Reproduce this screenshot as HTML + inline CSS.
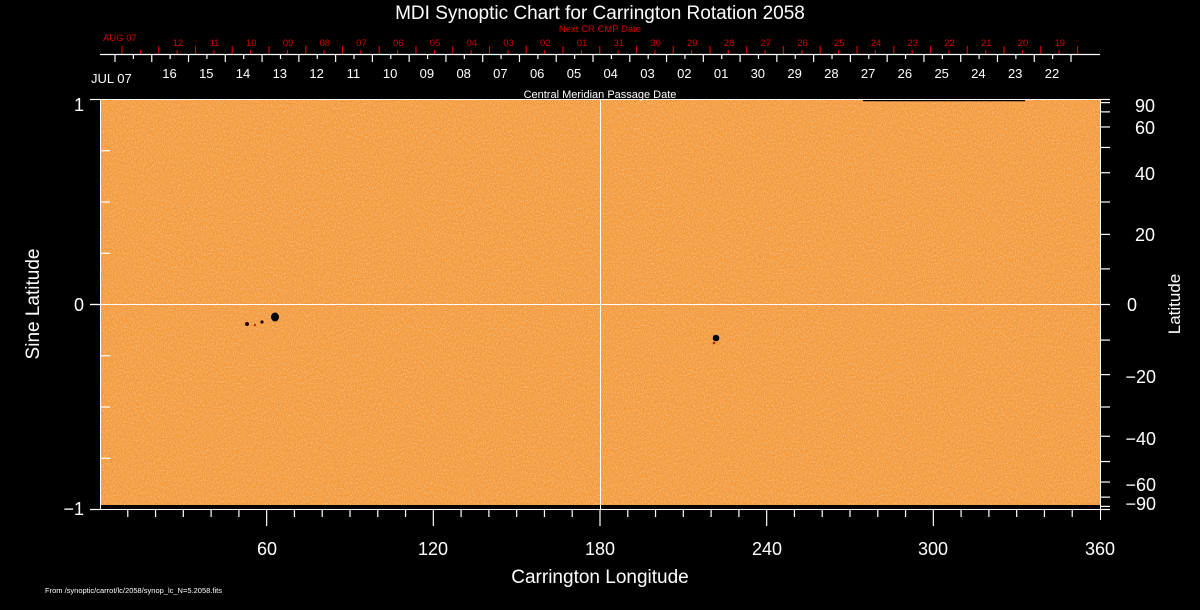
<!DOCTYPE html>
<html><head><meta charset="utf-8"><style>
html,body{margin:0;padding:0;background:#000;}
svg{display:block}
text{font-family:"Liberation Sans",sans-serif;}
</style></head><body>
<svg id="s" width="1200" height="610" viewBox="0 0 1200 610" xmlns="http://www.w3.org/2000/svg">
<defs>
<filter id="n" x="0" y="0" width="100%" height="100%">
<feTurbulence type="fractalNoise" baseFrequency="0.9 0.6" numOctaves="2" seed="3" result="t"/>
<feColorMatrix in="t" type="matrix" values="0 0 0 0 1  0 0 0 0 0.85  0 0 0 0 0.62  0 0 0 -2.2 1.35"/>
</filter>
</defs>
<rect x="0" y="0" width="1200" height="610" fill="#000"/>
<rect x="100" y="100" width="1000" height="405" fill="#f3983a"/>
<rect x="100" y="100" width="1000" height="405" filter="url(#n)" opacity="0.45"/>
<!-- sunspots -->
<ellipse cx="275" cy="317" rx="4" ry="4.5" fill="#000"/>
<circle cx="247" cy="324" r="2" fill="#200"/>
<circle cx="262" cy="322" r="1.6" fill="#200"/>
<circle cx="255" cy="325" r="1.2" fill="#c03000"/>
<circle cx="716" cy="338" r="3.3" fill="#000"/>
<circle cx="714" cy="343" r="1.3" fill="#b02800"/>
<line x1="863" y1="100.5" x2="1025" y2="100.5" stroke="#000" stroke-width="1.5"/>
<!-- grid -->
<line x1="600.5" y1="100" x2="600.5" y2="509" stroke="#fff" stroke-width="1"/>
<line x1="100" y1="304.5" x2="1100" y2="304.5" stroke="#fff" stroke-width="1"/>
<g id="ticks" stroke="#fff" stroke-width="1.2"></g>
<g id="rticks" stroke="#d00000" stroke-width="1.2"></g>
<!-- frame -->
<line x1="100" y1="99.5" x2="1100" y2="99.5" stroke="#fff"/>
<line x1="90" y1="509.5" x2="1100" y2="509.5" stroke="#fff"/>
<line x1="100.5" y1="99" x2="100.5" y2="510" stroke="#fff"/>
<line x1="1100.5" y1="99" x2="1100.5" y2="520" stroke="#fff"/>
<line x1="100" y1="54.5" x2="1100" y2="54.5" stroke="#fff" stroke-width="1.2"/>

<text x="600" y="19" fill="#fff" font-size="19" text-anchor="middle">MDI Synoptic Chart for Carrington Rotation 2058</text>
<text x="600" y="32" fill="#d00000" font-size="9.5" text-anchor="middle">Next CR CMP Date</text>
<text x="103" y="41" fill="#d00000" font-size="9.5">AUG 07</text>
<g fill="#d00000" font-size="9.5" text-anchor="middle">
<text x="178" y="46">12</text><text x="214.5" y="46">11</text><text x="251.3" y="46">10</text><text x="288" y="46">09</text><text x="324.8" y="46">08</text><text x="361.5" y="46">07</text><text x="398.3" y="46">06</text><text x="435" y="46">05</text><text x="471.8" y="46">04</text><text x="508.5" y="46">03</text><text x="545.3" y="46">02</text><text x="582" y="46">01</text><text x="618.8" y="46">31</text><text x="655.5" y="46">30</text><text x="692.3" y="46">29</text><text x="729" y="46">28</text><text x="765.8" y="46">27</text><text x="802.5" y="46">26</text><text x="839.3" y="46">25</text><text x="876" y="46">24</text><text x="912.8" y="46">23</text><text x="949.5" y="46">22</text><text x="986.3" y="46">21</text><text x="1023" y="46">20</text><text x="1059.8" y="46">19</text>
</g>
<text x="91" y="83" fill="#fff" font-size="13">JUL 07</text>
<g fill="#fff" font-size="13" text-anchor="middle">
<text x="169.5" y="78">16</text><text x="206.3" y="78">15</text><text x="243" y="78">14</text><text x="279.8" y="78">13</text><text x="316.6" y="78">12</text><text x="353.4" y="78">11</text><text x="390.1" y="78">10</text><text x="426.9" y="78">09</text><text x="463.7" y="78">08</text><text x="500.4" y="78">07</text><text x="537.2" y="78">06</text><text x="574" y="78">05</text><text x="610.7" y="78">04</text><text x="647.5" y="78">03</text><text x="684.3" y="78">02</text><text x="721.1" y="78">01</text><text x="757.8" y="78">30</text><text x="794.6" y="78">29</text><text x="831.4" y="78">28</text><text x="868.1" y="78">27</text><text x="904.9" y="78">26</text><text x="941.7" y="78">25</text><text x="978.4" y="78">24</text><text x="1015.2" y="78">23</text><text x="1052" y="78">22</text>
</g>
<text x="600" y="98" fill="#fff" font-size="11" text-anchor="middle">Central Meridian Passage Date</text>

<g fill="#fff" font-size="18">
<text x="84" y="111" text-anchor="end">1</text>
<text x="84" y="311" text-anchor="end">0</text>
<text x="84" y="515" text-anchor="end">−1</text>
<g text-anchor="middle">
<text x="267" y="555">60</text><text x="433" y="555">120</text><text x="600" y="555">180</text><text x="767" y="555">240</text><text x="933" y="555">300</text><text x="1100" y="555">360</text>
</g>
<g text-anchor="end">
<text x="1155" y="112">90</text><text x="1155" y="134">60</text><text x="1155" y="180">40</text><text x="1155" y="241">20</text><text x="1137" y="311">0</text><text x="1156" y="383">−20</text><text x="1156" y="445">−40</text><text x="1156" y="491">−60</text><text x="1156" y="510">−90</text>
</g>
</g>
<text x="600" y="583" fill="#fff" font-size="19" text-anchor="middle">Carrington Longitude</text>
<text transform="translate(39,304) rotate(-90)" fill="#fff" font-size="19" text-anchor="middle">Sine Latitude</text>
<text transform="translate(1180,304) rotate(-90)" fill="#fff" font-size="17" text-anchor="middle">Latitude</text>
<text x="45" y="593" fill="#fff" font-size="7.5">From /synoptic/carrot/lc/2058/synop_lc_N=5.2058.fits</text>
</svg>
<script>
var NS="http://www.w3.org/2000/svg";
function L(g,x1,y1,x2,y2){var l=document.createElementNS(NS,"line");l.setAttribute("x1",x1);l.setAttribute("y1",y1);l.setAttribute("x2",x2);l.setAttribute("y2",y2);document.getElementById(g).appendChild(l);}
for(var d=10;d<360;d+=10){var x=100+d*1000/360;L("ticks",x,509,x,d%60==0?526:517);}
for(var i=-4;i<=4;i++){var y=304.5-i*0.25*205;L("ticks",i%4==0?90:100,y,i%4==0?100:110,y);if(i==0)L("ticks",90,y,100,y);}
for(var a=-90;a<=90;a+=10){var y=304.5-Math.sin(a*Math.PI/180)*205;L("ticks",1100,y,1110,y);}
for(var k=0;k<=26;k++){var x=115+k*36.77;L("ticks",x,55,x,62);}
for(var k=0;k<=25;k++){var x=133.4+k*36.77;L("ticks",x,55,x,59);}
for(var k=0;k<=26;k++){var x=122+k*36.75;L("rticks",x,46,x,54);}
for(var k=0;k<=25;k++){var x=140.4+k*36.75;L("rticks",x,50,x,54);}
</script>
</body></html>
